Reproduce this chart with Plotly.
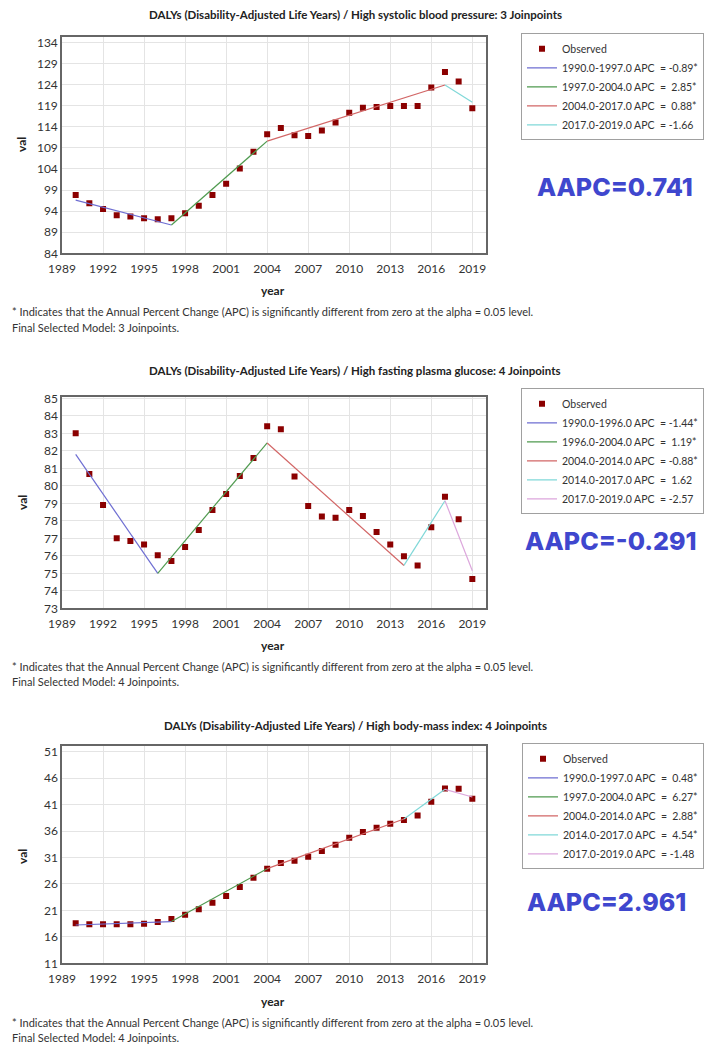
import plotly.graph_objects as go

W, H = 709, 1048

years = list(range(1990, 2020))

# Panel 1: High systolic blood pressure
sbp_obs = [97.8, 95.85, 94.5, 93.0, 92.7, 92.3, 92.1, 92.3, 93.5, 95.3,
           97.8, 100.5, 104.1, 108.1, 112.2, 113.7, 112.0, 111.8, 113.1, 115.0,
           117.3, 118.5, 118.7, 118.9, 118.9, 118.9, 123.3, 127.0, 124.7, 118.4]
sbp_joins = [1990, 1997, 2004, 2017, 2019]
sbp_fit = [96.6, 90.7, 110.6, 123.9, 119.8]
sbp_labels = ["1990.0-1997.0 APC\u00a0 = -0.89*", "1997.0-2004.0 APC\u00a0 = \u00a02.85*",
              "2004.0-2017.0 APC\u00a0 = \u00a00.88*", "2017.0-2019.0 APC\u00a0 = -1.66"]

# Panel 2: High fasting plasma glucose
fpg_obs = [83.0, 80.68, 78.9, 77.0, 76.85, 76.64, 76.03, 75.7, 76.5, 77.48,
           78.62, 79.53, 80.56, 81.59, 83.4, 83.23, 80.54, 78.85, 78.24, 78.18,
           78.62, 78.28, 77.36, 76.64, 75.97, 75.44, 77.63, 79.38, 78.09, 74.68]
fpg_joins = [1990, 1996, 2004, 2014, 2017, 2019]
fpg_fit = [81.8, 75.0, 82.45, 75.45, 79.15, 75.15]
fpg_labels = ["1990.0-1996.0 APC\u00a0 = -1.44*", "1996.0-2004.0 APC\u00a0 = \u00a01.19*",
              "2004.0-2014.0 APC\u00a0 = -0.88*", "2014.0-2017.0 APC\u00a0 = \u00a01.62",
              "2017.0-2019.0 APC\u00a0 = -2.57"]

# Panel 3: High body-mass index
bmi_obs = [18.56, 18.37, 18.37, 18.37, 18.37, 18.5, 18.81, 19.38, 20.2, 21.2,
           22.46, 23.72, 25.43, 27.19, 28.89, 29.96, 30.4, 31.16, 32.23, 33.43,
           34.75, 35.82, 36.64, 37.39, 38.09, 38.97, 41.55, 44.07, 44.0, 42.12]
bmi_joins = [1990, 1997, 2004, 2014, 2017, 2019]
bmi_fit = [18.24, 18.9, 28.9, 38.3, 43.9, 42.45]
bmi_labels = ["1990.0-1997.0 APC\u00a0 = \u00a00.48*", "1997.0-2004.0 APC\u00a0 = \u00a06.27*",
              "2004.0-2014.0 APC\u00a0 = \u00a02.88*", "2014.0-2017.0 APC\u00a0 = \u00a04.54*",
              "2017.0-2019.0 APC\u00a0 = -1.48"]

titles = ["DALYs (Disability-Adjusted Life Years) / High systolic blood pressure: 3 Joinpoints",
          "DALYs (Disability-Adjusted Life Years) / High fasting plasma glucose: 4 Joinpoints",
          "DALYs (Disability-Adjusted Life Years) / High body-mass index: 4 Joinpoints"]
aapc = ["AAPC=0.741", "AAPC=-0.291", "AAPC=2.961"]
final_model = ["Final Selected Model: 3 Joinpoints.", "Final Selected Model: 4 Joinpoints.",
               "Final Selected Model: 4 Joinpoints."]
footnote = "* Indicates that the Annual Percent Change (APC) is significantly different from zero at the alpha = 0.05 level."

x_ticks = list(range(1989, 2020, 3))
y_ranges = [(84, 135.2), (73, 85.06), (11, 52.1)]
y_tick0 = [84, 73, 11]
y_dtick = [5, 1, 5]

seg_colors = ["#6E6ED2", "#4F9A4F", "#D26666", "#80D8D8", "#DCA6DC"]
obs_color = "#8B0000"
FONT = "Lato"
TXT = "#333333"

# pixel layout (top, bottom) of each plot area
plot_px = [(37.3, 253.3), (397.3, 608.3), (746.0, 963.3)]
x_px = (62.0, 486.0)
title_y = [15, 370, 725]
val_y = [145, 503, 857]
year_y = [290, 645, 1001]
foot_y = [312, 666, 1022]
aapc_pos = [(615, 187), (611, 541), (606, 902)]
legend_top = [33.3, 388.3, 743.3]

def py(p):
    return 1 - p / H

def px(p):
    return p / W

fig = go.Figure()
panels = [(sbp_obs, sbp_joins, sbp_fit, sbp_labels),
          (fpg_obs, fpg_joins, fpg_fit, fpg_labels),
          (bmi_obs, bmi_joins, bmi_fit, bmi_labels)]

def note(text, x, y, font, xanchor="center", **kw):
    return dict(text=text, x=px(x), y=py(y), xref="paper", yref="paper",
                xanchor=xanchor, yanchor="middle", showarrow=False, font=font, **kw)

annotations = []
layout = {}
for i, (obs, joins, fit, labels) in enumerate(panels):
    n = "" if i == 0 else str(i + 1)
    xa, ya = "x" + n, "y" + n
    lg = "legend" + n
    fig.add_trace(go.Scatter(x=years, y=obs, mode="markers", name="Observed",
                             marker=dict(symbol="square", size=6, color=obs_color),
                             xaxis=xa, yaxis=ya, legend=lg))
    for k in range(len(joins) - 1):
        fig.add_trace(go.Scatter(x=joins[k:k + 2], y=fit[k:k + 2], mode="lines",
                                 name=labels[k], line=dict(color=seg_colors[k], width=1.2),
                                 xaxis=xa, yaxis=ya, legend=lg))
    top, bot = plot_px[i]
    layout["xaxis" + n] = dict(domain=[px(x_px[0]), px(x_px[1])], anchor=ya,
                               range=[1989, 2020], tickvals=x_ticks, automargin=False,
                               showgrid=True, gridcolor="#E4E4E4", gridwidth=1,
                               showline=True, linecolor="#666666", linewidth=1.5, mirror=True,
                               ticks="outside", ticklen=4, tickcolor="rgba(0,0,0,0)",
                               zeroline=False,
                               tickfont=dict(family=FONT, size=12, color=TXT))
    layout["yaxis" + n] = dict(domain=[py(bot), py(top)], anchor=xa, automargin=False,
                               range=list(y_ranges[i]), tick0=y_tick0[i], dtick=y_dtick[i],
                               showgrid=True, gridcolor="#E4E4E4", gridwidth=1,
                               showline=True, linecolor="#666666", linewidth=1.5, mirror=True,
                               ticks="", zeroline=False,
                               tickfont=dict(family=FONT, size=12, color=TXT))
    layout[lg] = dict(x=px(704), y=py(legend_top[i]), xanchor="right", yanchor="top",
                      bgcolor="white", bordercolor="#A0A0A0", borderwidth=1,
                      font=dict(family=FONT, size=10.5, color=TXT),
                      itemwidth=30, tracegroupgap=0)
    annotations += [
        note("<b>" + titles[i] + "</b>", 355, title_y[i],
             dict(family=FONT, size=11.5, color="#222222")),
        note("<b>val</b>", 22, val_y[i], dict(family=FONT, size=12, color="#222222"),
             textangle=-90),
        note("<b>year</b>", 273, year_y[i], dict(family=FONT, size=12, color="#222222")),
        note(footnote, 10, foot_y[i], dict(family=FONT, size=11, color=TXT), xanchor="left"),
        note(final_model[i], 10, foot_y[i] + 15, dict(family=FONT, size=11, color=TXT),
             xanchor="left"),
        note(aapc[i], aapc_pos[i][0], aapc_pos[i][1],
             dict(family="Inter", size=25, color="#3F47CE", weight=800)),
    ]

fig.update_layout(width=W, height=H, margin=dict(l=0, r=0, t=0, b=0, autoexpand=False),
                  paper_bgcolor="white", plot_bgcolor="white",
                  showlegend=True, annotations=annotations, **layout)

fig.write_html("out.html")
